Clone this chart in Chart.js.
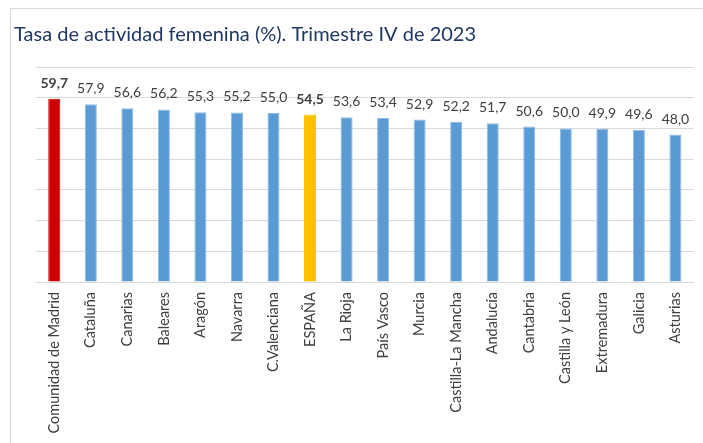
<!DOCTYPE html>
<html lang="es">
<head>
<meta charset="utf-8">
<title>Tasa de actividad femenina</title>
<script src="https://cdn.jsdelivr.net/npm/chart.js@4.4.1/dist/chart.umd.min.js"></script>
<style>
  html, body { margin: 0; padding: 0; background: #fff; overflow: hidden; }
  #wrap { position: relative; width: 703px; height: 443px; overflow: hidden; }
  #frame {
    position: absolute; left: 10px; top: 8px; right: -4px; bottom: -4px;
    border: 1px solid #d9d9d9; pointer-events: none;
  }
  canvas { display: block; }
</style>
</head>
<body>
<div id="wrap">
  <canvas id="chart" width="703" height="443"></canvas>
  <div id="frame"></div>
</div>
<script>
'use strict';

const regions = [
    'Comunidad de Madrid', 'Cataluña', 'Canarias', 'Baleares', 'Aragón',
    'Navarra', 'C.Valenciana', 'ESPAÑA', 'La Rioja', 'País Vasco', 'Murcia',
    'Castilla-La Mancha', 'Andalucía', 'Cantabria', 'Castilla y León',
    'Extremadura', 'Galicia', 'Asturias'
];
const activityRate = [
    59.7, 57.9, 56.6, 56.2, 55.3, 55.2, 55.0, 54.5, 53.6, 53.4, 52.9,
    52.2, 51.7, 50.6, 50.0, 49.9, 49.6, 48.0
];
const highlighted = ['Comunidad de Madrid', 'ESPAÑA'];

const COLORS = {
    bar: '#5b9bd5',
    barEdge: '#8fbbe4',
    madrid: '#cc0000',
    spain: '#ffc000',
    grid: '#d9d9d9',
    text: '#404040',
    title: '#1f3864'
};

const FONT = 'Lato, Calibri, Carlito, "Noto Sans", sans-serif';

function barColor(name) {
    if (name === 'Comunidad de Madrid') return COLORS.madrid;
    if (name === 'ESPAÑA') return COLORS.spain;
    return COLORS.bar;
}

// values on top of bars, comma as decimal separator
const valueLabels = {
    id: 'valueLabels',
    afterDatasetsDraw(chart) {
        const ctx = chart.ctx;
        const meta = chart.getDatasetMeta(0);
        ctx.save();
        ctx.fillStyle = COLORS.text;
        ctx.textAlign = 'center';
        ctx.textBaseline = 'alphabetic';
        meta.data.forEach((bar, i) => {
            const bold = highlighted.includes(regions[i]);
            ctx.font = (bold ? 'bold ' : '') + '14px ' + FONT;
            const txt = activityRate[i].toFixed(1).replace('.', ',');
            ctx.fillText(txt, bar.x, bar.y - 11);
        });
        ctx.restore();
    }
};

new Chart(document.getElementById('chart'), {
    type: 'bar',
    data: {
        labels: regions,
        datasets: [{
            data: activityRate,
            backgroundColor: regions.map(barColor),
            borderColor: regions.map(r => barColor(r) === COLORS.bar ? COLORS.barEdge : barColor(r)),
            borderWidth: { left: 1, right: 1, top: 1, bottom: 0 },
            categoryPercentage: 1,
            barPercentage: 0.33
        }]
    },
    options: {
        responsive: false,
        animation: false,
        devicePixelRatio: 1,
        layout: { padding: { left: 14, right: 7, top: 0, bottom: 0 } },
        plugins: {
            legend: { display: false },
            tooltip: { enabled: false },
            title: {
                display: true,
                text: 'Tasa de actividad femenina (%). Trimestre IV de 2023',
                align: 'start',
                color: COLORS.title,
                font: { family: FONT, size: 20, weight: 'normal' },
                padding: { top: 23, bottom: 20 }
            }
        },
        scales: {
            x: {
                grid: { display: false, drawTicks: false },
                border: { display: true, color: COLORS.grid, width: 1 },
                ticks: {
                    color: COLORS.text,
                    font: { family: FONT, size: 14.5 },
                    minRotation: 90,
                    maxRotation: 90,
                    autoSkip: false,
                    padding: 10
                },
                afterFit(scale) { scale.height = 161; }
            },
            y: {
                min: 0,
                max: 70,
                grid: { color: COLORS.grid, lineWidth: 1, drawTicks: false },
                border: { display: false },
                ticks: { display: false, stepSize: 10 },
                afterFit(scale) { scale.width = 22; }
            }
        }
    },
    plugins: [valueLabels]
});
</script>
</body>
</html>
